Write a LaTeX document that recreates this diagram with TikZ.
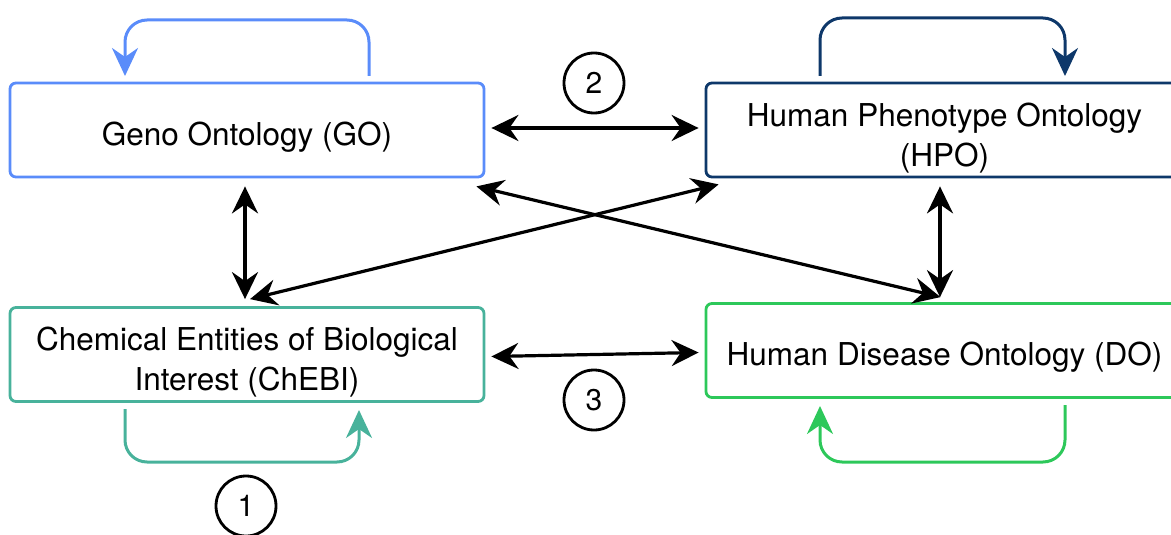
\documentclass[tikz,border=0pt]{standalone}
\usepackage{fontspec}
\setmainfont{TeX Gyre Heros}
\usetikzlibrary{arrows.meta}
\definecolor{goblue}{RGB}{90,140,250}
\definecolor{hponavy}{RGB}{14,56,106}
\definecolor{chebiteal}{RGB}{72,178,155}
\definecolor{dogreen}{RGB}{45,200,90}
\tikzset{
  onto/.style={draw, line width=2.8pt, rounded corners=6pt, minimum width=474pt,
    minimum height=94pt, align=center, font=\fontsize{31.5}{40}\selectfont, inner sep=0pt},
  oneline/.style={text height=30.6pt, text depth=0pt},
  twoline/.style={text height=80pt, text depth=7.4pt},
  link/.style={line width=3.2pt, {Stealth[length=27pt,width=26pt,inset=9pt]}-{Stealth[length=27pt,width=26pt,inset=9pt]}},
  selfloop/.style={line width=3pt, rounded corners=22pt, -{Stealth[length=28pt,width=26pt,inset=9pt]}},
  badge/.style={draw, circle, line width=2.8pt, minimum size=60pt, inner sep=0pt,
    font=\fontsize{30}{34}\selectfont}
}
\begin{document}
\begin{tikzpicture}[x=1pt,y=-1pt]
\useasboundingbox (0,0) rectangle (1171,535);
% ontologies
\node[onto, oneline, draw=goblue] (go) at (247,130) {Geno Ontology (GO)};
\node[onto, twoline, draw=hponavy, minimum width=477pt] (hpo) at (944.5,130) {Human Phenotype Ontology\\(HPO)};
\node[onto, twoline, draw=chebiteal] (chebi) at (247,354.5) {Chemical Entities of Biological\\Interest (ChEBI)};
\node[onto, oneline, draw=dogreen, minimum width=477pt] (do) at (944.5,350.5) {Human Disease Ontology (DO)};
% numbered markers
\node[badge] (n2) at (594,83) {2};
\node[badge] (n3) at (594,400) {3};
\node[badge] (n1) at (246,506) {1};
% links between ontologies
\draw[link] ([xshift=6pt,yshift=2pt]go.east) -- ([xshift=-6pt,yshift=2pt]hpo.west);
\draw[link] ([xshift=6pt,yshift=-2pt]chebi.east) -- ([xshift=-6pt,yshift=-2pt]do.west);
\draw[link] ([xshift=-2pt,yshift=-8pt]go.south) -- ([xshift=-2pt,yshift=7pt]chebi.north);
\draw[link] ([xshift=-4.5pt,yshift=-8pt]hpo.south) -- ([xshift=-4.5pt,yshift=5pt]do.north);
\draw[link] ([xshift=-9pt,yshift=-8pt]go.south east) -- ([xshift=-4pt,yshift=5pt]do.north);
\draw[link] ([xshift=14pt,yshift=-6pt]hpo.south west) -- ([xshift=3pt,yshift=7pt]chebi.north);
% self references
\coordinate (goA) at (369,76);
\coordinate (goB) at (125,76);
\draw[selfloop, goblue] (goA) -- (369,20) -- (125,20) -- (goB);
\coordinate (hpoA) at (820,76);
\coordinate (hpoB) at (1065,76);
\draw[selfloop, hponavy] (hpoA) -- (820,18) -- (1065,18) -- (hpoB);
\coordinate (chA) at (125,409);
\coordinate (chB) at (359,410);
\draw[selfloop, chebiteal] (chA) -- (125,462) -- (359,462) -- (chB);
\coordinate (doA) at (1065,405);
\coordinate (doB) at (820,406);
\draw[selfloop, dogreen] (doA) -- (1065,462) -- (820,462) -- (doB);
\end{tikzpicture}
\end{document}
